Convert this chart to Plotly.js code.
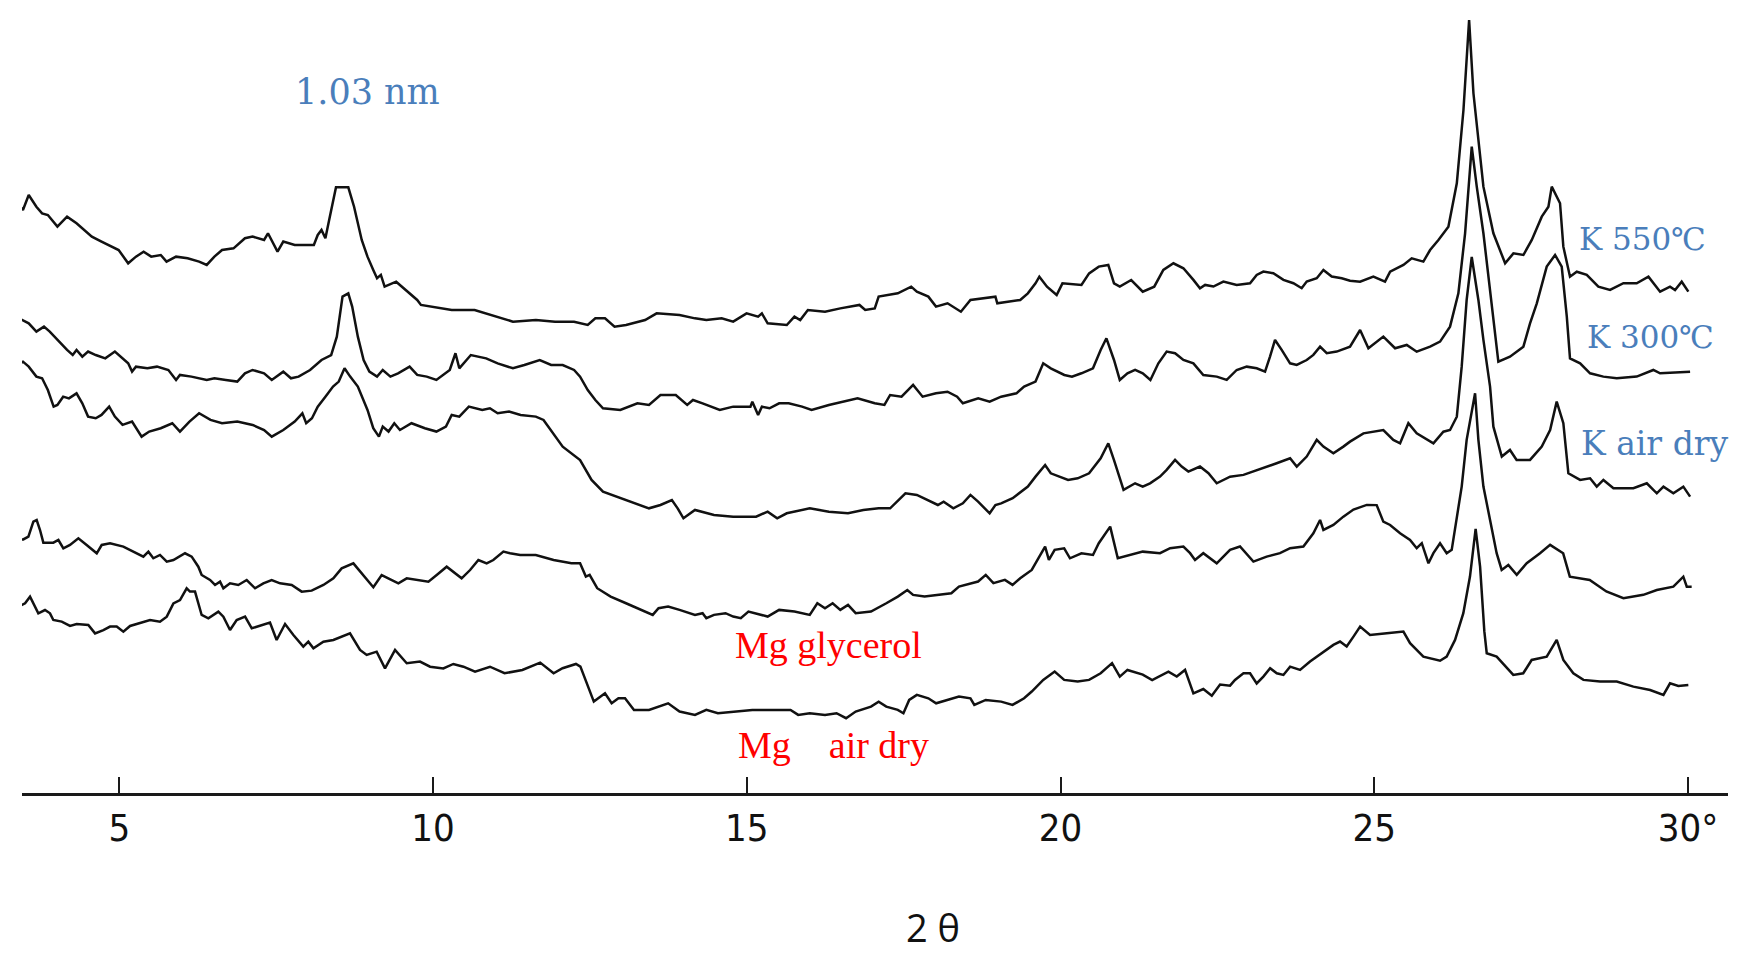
<!DOCTYPE html>
<html>
<head>
<meta charset="utf-8">
<script src="https://cdn.plot.ly/plotly-3.0.1.min.js"></script>
<style>
  html, body { margin: 0; padding: 0; background: #ffffff; }
  #chart { width: 1737px; height: 953px; }
</style>
</head>
<body>
<div id="chart"></div>
<script>
// X-ray diffraction patterns, 2θ (degrees) vs. intensity (arbitrary units, offset per sample)
const tickVals = [5, 10, 15, 20, 25, 30];
const tickText = ['5', '10', '15', '20', '25', '30°'];

const seriesNames = ['K 550℃', 'K 300℃', 'K air dry', 'Mg glycerol', 'Mg air dry'];

const k550X = [3.404,3.464,3.556,3.678,3.769,3.861,4.013,4.167,4.318,4.562,4.716,4.868,4.989,5.141,5.265,5.387,5.508,5.660,5.752,5.904,6.088,6.271,6.393,6.515,6.637,6.820,7.002,7.124,7.307,7.369,7.521,7.613,7.795,8.100,8.162,8.222,8.284,8.344,8.453,8.649,8.741,8.863,8.955,9.047,9.107,9.168,9.228,9.412,9.564,9.747,9.807,9.991,10.297,10.662,10.906,11.273,11.638,11.944,12.247,12.465,12.586,12.740,12.892,13.075,13.379,13.563,13.928,14.174,14.355,14.599,14.783,14.996,15.180,15.240,15.332,15.637,15.759,15.851,15.973,16.246,16.490,16.795,16.887,17.039,17.101,17.406,17.620,17.710,17.893,18.015,18.199,18.412,18.564,18.962,18.992,19.357,19.479,19.601,19.662,19.784,19.938,20.030,20.333,20.455,20.609,20.761,20.852,20.944,21.126,21.310,21.493,21.638,21.799,21.958,22.117,22.222,22.304,22.436,22.595,22.807,23.020,23.126,23.232,23.391,23.552,23.711,23.843,23.923,24.083,24.189,24.322,24.481,24.613,24.774,24.985,25.171,25.252,25.464,25.596,25.782,25.889,26.022,26.181,26.315,26.421,26.511,26.580,26.659,26.739,26.898,27.085,27.217,27.376,27.510,27.669,27.775,27.828,27.960,28.013,28.119,28.227,28.386,28.571,28.757,28.970,29.182,29.369,29.555,29.713,29.793,29.899,30.005];
const k550Y = [530.0,525.4,539.0,528.4,522.4,520.9,510.4,519.4,513.4,501.4,496.9,492.3,489.3,477.3,483.3,487.8,483.3,484.8,478.8,483.3,481.8,478.8,475.8,483.3,489.3,490.8,499.9,501.4,498.4,504.4,487.8,496.9,493.8,493.8,502.9,507.4,499.9,516.4,545.9,545.9,528.4,498.4,483.3,471.3,463.8,466.8,456.2,460.7,453.2,444.2,439.7,438.2,435.2,435.2,430.7,424.6,426.1,424.6,424.6,421.6,427.6,427.6,420.1,421.6,426.1,432.1,430.6,427.6,426.1,427.6,424.6,432.1,429.1,432.1,423.1,421.6,429.1,426.1,435.1,433.6,436.6,439.7,435.1,436.6,447.2,450.2,456.2,451.7,447.2,438.2,441.2,433.6,444.2,447.2,441.2,444.2,450.2,459.2,465.2,456.2,448.7,459.2,457.7,468.2,474.3,475.8,459.2,456.2,462.2,451.7,456.2,471.3,477.3,472.8,462.3,454.8,457.8,456.3,460.8,457.8,459.3,466.8,469.8,468.3,462.3,459.3,454.8,460.8,463.8,471.3,465.3,463.8,461.5,460.7,465.2,460.7,469.7,475.8,481.8,478.8,489.3,498.4,510.4,549.5,615.7,696.9,630.8,588.6,546.5,504.4,477.3,486.3,484.8,498.4,519.4,528.4,546.5,531.5,492.3,465.2,469.7,466.8,456.2,453.2,459.3,459.3,465.2,451.7,456.2,453.2,460.7,451.7];

const k300X = [3.404,3.464,3.556,3.678,3.799,3.891,4.013,4.167,4.257,4.318,4.410,4.502,4.624,4.776,4.929,5.051,5.141,5.203,5.265,5.447,5.600,5.782,5.904,5.966,6.149,6.393,6.515,6.697,6.880,7.002,7.124,7.307,7.429,7.613,7.735,7.857,8.040,8.222,8.376,8.466,8.557,8.649,8.711,8.801,8.893,8.985,9.107,9.198,9.320,9.442,9.626,9.747,9.899,10.053,10.266,10.357,10.418,10.602,10.846,11.029,11.273,11.455,11.700,11.882,12.066,12.247,12.343,12.465,12.586,12.708,12.984,13.257,13.441,13.624,13.868,14.050,14.142,14.295,14.569,14.783,15.058,15.088,15.180,15.240,15.362,15.515,15.667,15.881,16.033,16.308,16.552,16.765,17.039,17.193,17.284,17.466,17.650,17.802,18.015,18.199,18.352,18.443,18.688,18.870,19.053,19.297,19.419,19.601,19.724,19.844,20.060,20.182,20.333,20.517,20.639,20.731,20.852,20.944,21.066,21.188,21.310,21.432,21.559,21.691,21.825,21.958,22.117,22.275,22.489,22.648,22.807,22.967,23.126,23.259,23.338,23.418,23.524,23.658,23.764,23.923,24.029,24.136,24.242,24.401,24.613,24.774,24.906,25.144,25.331,25.517,25.676,25.889,26.048,26.207,26.340,26.447,26.553,26.633,26.739,26.845,26.977,27.162,27.376,27.482,27.590,27.748,27.881,27.987,28.068,28.119,28.280,28.439,28.651,28.864,29.182,29.447,29.555,30.033];
const k300Y = [427.6,426.1,423.1,415.6,420.1,415.6,408.1,399.1,394.5,399.1,393.0,397.6,394.5,391.5,397.6,391.5,387.0,379.5,384.0,382.5,384.0,381.0,372.0,376.5,375.0,372.0,373.5,372.0,370.5,378.0,381.0,378.0,372.0,379.5,373.5,375.0,381.0,390.0,394.5,411.1,447.2,450.2,438.2,411.1,390.0,379.5,375.0,381.0,375.0,378.0,384.0,376.5,375.0,372.0,381.0,396.1,382.5,394.5,391.5,387.0,382.5,385.5,390.0,385.5,385.5,381.0,375.0,362.9,353.9,346.4,344.9,350.9,349.4,358.4,358.4,349.4,353.9,350.9,344.9,347.9,347.9,352.4,340.4,347.9,346.4,350.9,350.9,347.9,344.9,349.4,352.4,355.4,350.9,349.4,358.4,356.9,367.5,356.9,359.9,361.4,356.9,350.9,355.4,352.4,356.9,359.9,366.0,370.5,387.0,382.5,376.5,375.0,378.0,382.5,399.0,409.6,390.0,372.0,378.0,381.0,378.0,372.0,387.0,397.6,396.1,390.1,387.0,376.5,375.0,372.0,381.0,384.0,382.5,379.5,393.1,408.1,399.1,387.0,385.5,390.0,394.6,402.1,396.1,397.6,402.0,417.1,400.6,411.1,400.6,403.6,397.5,402.0,406.6,420.1,450.2,504.4,582.6,546.5,504.4,450.2,388.5,393.0,402.0,423.1,441.2,474.3,484.8,474.3,429.1,391.5,387.0,378.0,375.0,373.5,375.0,381.0,378.0,379.5];

const kAirX = [3.404,3.464,3.556,3.678,3.769,3.861,3.953,4.013,4.105,4.197,4.318,4.410,4.502,4.624,4.716,4.838,4.929,5.051,5.203,5.355,5.477,5.660,5.844,5.966,6.118,6.271,6.453,6.637,6.880,7.124,7.307,7.429,7.613,7.795,7.917,7.978,8.070,8.162,8.284,8.406,8.497,8.589,8.679,8.801,8.955,9.047,9.137,9.198,9.290,9.382,9.472,9.656,9.869,10.053,10.205,10.297,10.418,10.570,10.784,10.906,11.029,11.211,11.395,11.638,11.760,11.912,12.066,12.343,12.526,12.708,13.075,13.441,13.624,13.806,13.898,13.990,14.174,14.477,14.783,15.148,15.332,15.484,15.637,16.003,16.308,16.613,16.857,17.101,17.284,17.528,17.710,17.893,18.045,18.137,18.291,18.443,18.564,18.686,18.870,18.962,19.053,19.237,19.479,19.601,19.754,19.844,19.968,20.120,20.273,20.455,20.639,20.761,20.852,21.004,21.188,21.310,21.426,21.585,21.691,21.825,21.931,22.037,22.222,22.357,22.489,22.701,22.915,23.073,23.285,23.444,23.658,23.764,23.923,24.083,24.189,24.348,24.507,24.613,24.827,25.144,25.303,25.411,25.543,25.676,25.942,26.101,26.207,26.315,26.393,26.472,26.553,26.659,26.739,26.845,26.898,27.032,27.162,27.268,27.482,27.669,27.802,27.907,28.013,28.093,28.280,28.439,28.545,28.651,28.811,29.129,29.343,29.502,29.608,29.766,29.925,30.033];
const kAirY = [387.0,388.5,384.0,375.0,373.5,362.9,347.9,349.4,356.9,355.4,359.9,350.9,338.9,337.4,340.4,347.9,338.9,331.4,334.4,320.8,325.4,328.4,332.9,325.4,334.4,341.9,335.9,332.9,334.4,331.4,326.8,320.8,326.8,334.4,341.9,332.9,337.4,347.9,356.9,366.0,370.5,382.5,375.0,366.0,344.9,328.4,320.8,329.9,325.4,332.9,326.8,332.9,328.4,325.4,329.9,340.4,338.9,347.9,344.9,346.4,341.9,343.4,340.4,338.9,335.9,323.8,311.8,299.7,281.7,271.2,263.6,256.1,259.1,263.6,256.1,247.1,254.6,250.1,248.6,248.6,253.1,247.1,251.6,256.1,253.1,251.6,254.6,256.1,256.1,269.7,268.2,263.6,259.1,262.1,256.1,260.6,268.2,262.1,251.6,259.1,260.6,265.2,275.7,284.7,295.2,287.7,284.7,281.7,283.2,287.7,301.2,314.8,299.7,272.7,278.7,275.7,278.7,284.7,290.8,299.8,293.8,289.3,293.8,287.8,278.7,284.7,286.3,289.3,293.8,296.8,301.3,293.8,302.8,317.9,311.8,305.8,311.8,316.3,323.8,326.8,317.8,314.8,332.9,323.8,314.8,325.3,326.8,338.8,384.0,444.2,483.0,444.2,408.1,366.0,329.8,302.8,308.8,299.8,299.8,311.8,326.8,352.4,332.9,287.7,281.7,283.2,275.7,281.7,274.2,274.2,278.7,269.7,275.7,269.7,275.7,266.7];

const mgGlyX = [3.390,3.469,3.551,3.630,3.683,3.736,3.789,3.948,4.029,4.108,4.214,4.347,4.479,4.640,4.719,4.852,5.064,5.224,5.383,5.463,5.542,5.648,5.756,5.862,6.047,6.153,6.259,6.312,6.446,6.525,6.605,6.658,6.764,6.896,7.030,7.163,7.295,7.428,7.562,7.747,7.906,8.065,8.252,8.411,8.543,8.730,8.863,9.048,9.181,9.447,9.580,9.792,9.926,10.058,10.217,10.455,10.590,10.722,10.854,10.960,11.121,11.227,11.388,11.637,11.921,12.205,12.343,12.435,12.495,12.616,12.830,13.075,13.319,13.501,13.593,13.746,13.928,14.174,14.295,14.355,14.477,14.661,14.783,14.904,15.026,15.210,15.332,15.515,15.759,16.003,16.124,16.246,16.368,16.490,16.613,16.735,16.979,17.223,17.406,17.558,17.650,17.833,18.259,18.381,18.686,18.808,18.930,19.113,19.235,19.357,19.541,19.662,19.754,19.814,19.906,20.058,20.150,20.333,20.517,20.609,20.791,20.912,21.126,21.310,21.585,21.746,21.958,22.064,22.143,22.275,22.489,22.701,22.860,23.073,23.285,23.497,23.658,23.870,24.029,24.136,24.189,24.348,24.507,24.668,24.880,25.038,25.144,25.252,25.411,25.570,25.676,25.757,25.863,25.942,26.048,26.154,26.234,26.313,26.393,26.472,26.606,26.659,26.739,26.845,26.950,27.030,27.136,27.270,27.429,27.641,27.802,28.010,28.116,28.433,28.698,28.970,29.288,29.502,29.766,29.925,29.980,30.058];
const mgGlyY = [227.5,228.0,230.5,244.0,245.5,236.5,225.1,225.1,227.5,220.0,223.0,229.0,223.0,215.5,223.0,224.5,221.5,217.0,212.5,217.0,211.0,214.0,208.0,209.4,215.5,212.5,203.4,195.9,191.4,186.9,189.9,183.9,188.4,186.9,191.4,183.9,188.4,191.4,188.4,186.9,180.9,181.8,186.9,192.9,201.9,206.4,197.4,184.8,195.9,188.4,192.9,191.4,189.9,195.9,203.4,192.9,200.4,209.4,206.4,209.4,217.0,215.5,214.0,214.0,209.5,206.5,206.5,194.5,196.0,184.0,176.4,170.4,164.4,159.9,165.9,167.4,164.4,159.9,161.4,156.9,159.9,161.4,158.4,156.9,162.9,159.9,158.4,164.4,162.9,159.9,170.4,165.9,170.4,164.4,168.9,161.4,162.9,170.4,176.4,182.4,177.9,176.4,179.4,185.5,190.0,196.0,188.5,191.5,187.0,193.0,200.5,212.5,221.6,209.5,218.6,220.0,211.0,215.5,214.0,224.6,239.6,211.0,214.0,217.0,215.6,220.1,221.6,215.6,209.5,215.6,206.5,218.6,221.6,208.0,212.5,215.6,220.1,221.6,233.6,245.6,236.6,241.1,248.6,255.0,259.2,259.0,244.1,241.1,233.6,227.6,220.1,224.6,206.5,215.6,224.6,215.6,218.6,245.6,275.7,317.9,360.0,317.9,275.7,245.6,215.6,200.5,205.0,196.0,206.5,215.6,223.1,215.5,194.4,191.4,181.0,175.0,178.0,182.4,185.4,194.4,185.4,185.4];

const mgAirX = [3.390,3.498,3.577,3.630,3.709,3.815,3.895,3.948,4.082,4.214,4.320,4.506,4.613,4.746,4.852,4.958,5.064,5.171,5.330,5.489,5.648,5.756,5.862,5.967,6.073,6.126,6.206,6.312,6.419,6.578,6.658,6.764,6.870,7.004,7.110,7.269,7.401,7.507,7.641,7.774,7.932,8.012,8.093,8.252,8.411,8.676,8.836,8.942,9.101,9.234,9.394,9.580,9.792,9.952,10.164,10.323,10.484,10.669,10.907,11.139,11.423,11.707,11.921,12.064,12.277,12.348,12.454,12.562,12.740,12.846,12.954,13.059,13.202,13.441,13.746,13.928,14.174,14.355,14.539,14.783,15.088,15.393,15.697,15.819,16.003,16.246,16.430,16.582,16.735,16.979,17.101,17.223,17.406,17.496,17.588,17.710,17.893,18.017,18.199,18.381,18.564,18.626,18.808,19.053,19.235,19.419,19.541,19.724,19.906,20.058,20.273,20.455,20.639,20.821,20.944,21.066,21.310,21.460,21.719,21.852,21.984,22.117,22.275,22.410,22.542,22.701,22.780,22.915,23.020,23.126,23.232,23.340,23.446,23.552,23.658,23.817,23.976,24.189,24.348,24.454,24.560,24.668,24.774,24.932,25.091,25.199,25.464,25.570,25.782,26.048,26.154,26.287,26.419,26.525,26.615,26.686,26.754,26.792,26.950,27.215,27.374,27.508,27.748,27.907,28.013,28.172,28.333,28.598,28.864,29.129,29.396,29.608,29.713,29.846,30.005];
const mgAirY = [167.3,170.3,176.3,170.3,161.3,164.3,161.3,155.3,153.8,149.9,151.7,150.8,143.2,146.2,149.3,149.3,144.7,149.9,152.3,155.3,153.8,158.3,170.3,173.3,183.9,180.9,180.9,159.8,156.8,162.8,158.3,146.2,155.3,158.3,147.8,150.8,152.9,137.2,151.7,141.7,131.2,135.7,129.7,135.7,137.2,143.2,128.2,123.7,126.7,111.6,128.2,116.2,117.7,113.1,111.6,115.6,113.1,108.6,113.1,107.2,110.2,116.8,107.2,111.7,115.6,113.2,98.1,81.6,89.1,80.1,84.6,84.6,74.1,74.1,80.1,72.6,69.6,74.1,71.1,72.6,74.1,74.1,74.1,69.6,71.1,69.6,71.1,66.6,72.6,77.1,81.6,77.1,74.1,71.1,83.1,87.7,84.6,80.1,83.1,86.2,84.6,78.6,83.1,81.6,78.6,84.6,90.7,101.2,108.7,101.2,99.7,101.2,107.2,116.3,104.2,110.2,106.0,101.0,108.7,104.2,110.2,89.0,93.0,87.0,97.0,96.0,101.2,107.2,107.2,98.0,104.2,111.7,107.2,105.7,113.2,110.2,117.8,126.8,132.8,135.8,131.3,140.3,149.3,141.8,143.0,143.3,144.8,134.3,122.2,118.5,122.3,137.3,161.4,194.5,237.5,203.5,145.0,125.3,122.2,105.7,107.2,119.2,122.2,137.3,119.2,107.2,101.2,99.7,99.7,95.1,92.1,87.6,98.1,95.7,96.6];

const seriesX = [k550X, k300X, kAirX, mgGlyX, mgAirX];
const seriesY = [k550Y, k300Y, kAirY, mgGlyY, mgAirY];

const traces = seriesX.map((xs, i) => ({
  type: 'scatter',
  mode: 'lines',
  name: seriesNames[i],
  x: xs,
  y: seriesY[i],
  line: { color: '#111111', width: 2.5 },
  hoverinfo: 'skip',
  showlegend: false
}));

const blue = '#4A7EBB';
const red = '#FF0000';
const blueFontSmall = { family: 'DejaVu Serif, serif', size: 31, color: blue };
const blueFont = { family: 'DejaVu Serif, serif', size: 33, color: blue };
const redFont = { family: 'Liberation Serif, Times New Roman, serif', size: 38, color: red };

const layout = {
  width: 1737,
  height: 953,
  margin: { l: 0, r: 0, t: 0, b: 160 },
  paper_bgcolor: '#ffffff',
  plot_bgcolor: '#ffffff',
  showlegend: false,
  xaxis: {
    domain: [0.01267, 0.99482],
    range: [3.449, 30.637],
    showgrid: false,
    zeroline: false,
    showline: true,
    linecolor: '#1a1a1a',
    linewidth: 2.5,
    ticks: 'inside',
    ticklen: 16,
    tickwidth: 2,
    tickcolor: '#1a1a1a',
    tickmode: 'array',
    tickvals: tickVals,
    ticktext: tickText,
    tickfont: { family: 'Liberation Sans Narrow, DejaVu Sans Condensed, sans-serif', size: 38, color: '#111111' },
    ticklabelstandoff: 0,
    fixedrange: true
  },
  yaxis: {
    visible: false,
    range: [-0.9, 715],
    showgrid: false,
    zeroline: false,
    fixedrange: true
  },
  annotations: [
    { text: '1.03 nm', x: 8.963, y: 631.9, xref: 'x', yref: 'y', showarrow: false, font: { family: 'DejaVu Serif, serif', size: 35, color: blue }, xanchor: 'center', yanchor: 'middle' },
    { text: 'K 550℃', x: 29.274, y: 499.1, xref: 'x', yref: 'y', showarrow: false, font: blueFontSmall, xanchor: 'center', yanchor: 'middle' },
    { text: 'K 300℃', x: 29.394, y: 410.6, xref: 'x', yref: 'y', showarrow: false, font: blueFontSmall, xanchor: 'center', yanchor: 'middle' },
    { text: 'K air dry', x: 29.469, y: 314.3, xref: 'x', yref: 'y', showarrow: false, font: blueFont, xanchor: 'center', yanchor: 'middle' },
    { text: 'Mg glycerol', x: 16.308, y: 132.3, xref: 'x', yref: 'y', showarrow: false, font: redFont, xanchor: 'center', yanchor: 'middle' },
    { text: 'Mg\u00a0\u00a0\u00a0\u00a0air dry', x: 16.378, y: 42.0, xref: 'x', yref: 'y', showarrow: false, font: redFont, xanchor: 'center', yanchor: 'middle' },
    { text: '2 θ', x: 17.968, y: -0.169, xref: 'x', yref: 'paper', showarrow: false, font: { family: 'Open Sans, Noto Sans, sans-serif', size: 38, color: '#111111' }, xanchor: 'center', yanchor: 'middle' }
  ]
};

Plotly.newPlot('chart', traces, layout, { staticPlot: true, displayModeBar: false });
</script>
</body>
</html>
